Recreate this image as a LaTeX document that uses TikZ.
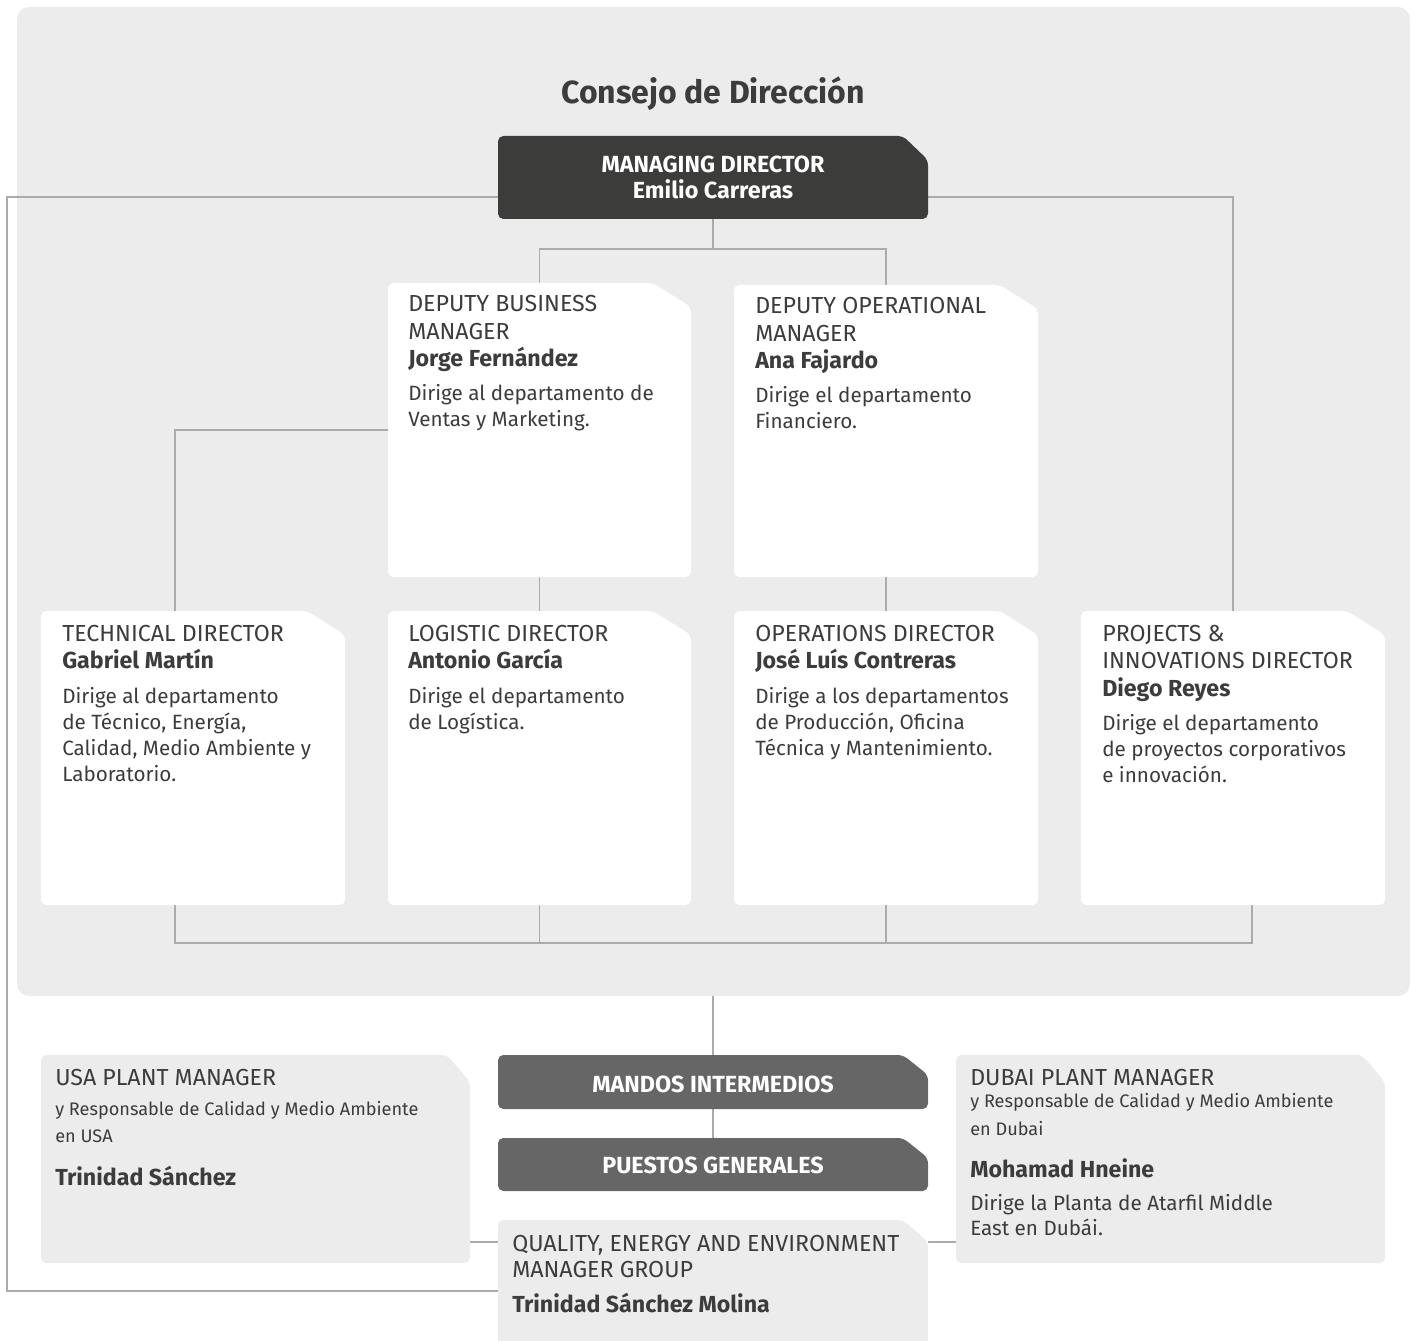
\documentclass[tikz,border=0pt]{standalone}
\usepackage{fontspec}
\setmainfont{Fira Sans}
\usetikzlibrary{fit,calc}
\definecolor{bgc}{HTML}{ECECEC}
\definecolor{dark}{HTML}{3C3C3B}
\definecolor{midg}{HTML}{666666}
\definecolor{txt}{HTML}{3C3C3C}
\definecolor{linec}{HTML}{ABABAB}
\newcommand\cutbox[4]{%
  \fill[#4, rounded corners=4pt] (#1.south west) -- (#1.north west) -- ($(#1.north east)+(-#2,0)$) -- ($(#1.north east)+(0,#3)$) -- (#1.south east) -- cycle;}
\tikzset{
  area/.style={inner sep=0pt, outer sep=0pt, draw=none},
  conn/.style={draw=linec, line width=1.3pt},
  hd/.style={font=\fontsize{17.4}{20}\selectfont, text=txt, inner sep=0pt, anchor=base west},
  nm/.style={font=\fontsize{17.4}{20}\selectfont\bfseries, text=txt, inner sep=0pt, anchor=base west},
  bd/.style={font=\fontsize{15.5}{18}\selectfont, text=txt, inner sep=0pt, anchor=base west},
  sm/.style={font=\fontsize{13.6}{16}\selectfont, text=txt, inner sep=0pt, anchor=base west},
  wt/.style={font=\fontsize{17.5}{20}\selectfont\bfseries, text=white, inner sep=0pt, anchor=base},
}
\begin{document}
\begin{tikzpicture}[x=0.75pt,y=-0.75pt]
\useasboundingbox (0,0) rectangle (1415,1341);
% background panel
\node[area, fit={(17,7) (1410,996)}] (bg) {};
\fill[bgc, rounded corners=9pt] (bg.south west) rectangle (bg.north east);
% box areas
\node[area, fit={(498,136) (928,219)}] (md) {};
\node[area, fit={(388,283) (691,577)}] (dbm) {};
\node[area, fit={(734,285) (1038,577)}] (dom) {};
\node[area, fit={(41,611) (345,905)}] (td) {};
\node[area, fit={(388,611) (691,905)}] (ld) {};
\node[area, fit={(734,611) (1038,905)}] (od) {};
\node[area, fit={(1081,611) (1385,905)}] (pid) {};
\node[area, fit={(498,1055) (928,1109)}] (mandos) {};
\node[area, fit={(498,1138) (928,1191)}] (puestos) {};
\node[area, fit={(498,1220) (928,1352)}] (qee) {};
\node[area, fit={(41,1055) (470,1263)}] (usa) {};
\node[area, fit={(956,1055) (1385,1263)}] (dubai) {};
% connectors
\coordinate (lc) at (7,1291);
\draw[conn] ($(md.south west)+(0,-22)$) -| (lc) -- (lc -| qee.west);
\draw[conn] ($(md.south east)+(0,-22)$) -| (pid.north);
\draw[conn] (md.south) -- ++(0,30) -| (dbm.north);
\draw[conn] (md.south) -- ++(0,30) -| (dom.north);
\draw[conn] ($(dbm.north west)+(0,147)$) -| ($(td.north)+(-18,0)$);
\draw[conn] (dbm.south) -- (ld.north);
\draw[conn] (dom.south) -- (od.north);
\coordinate (busL) at (175,943);
\coordinate (busR) at (1252,943);
\draw[conn] ($(td.south)+(-18,0)$) -- (busL) -- (busR) -- ($(pid.south)+(19,0)$);
\draw[conn] (ld.south) -- (ld.south |- busL);
\draw[conn] (od.south) -- (od.south |- busL);
\draw[conn] (mandos.north |- bg.south) -- (mandos.north);
\draw[conn] (mandos.south) -- (puestos.north);
\coordinate (uq) at ($(usa.south east)+(0,-21)$);
\draw[conn] (uq) -- (uq -| qee.west);
\draw[conn] (uq -| qee.east) -- (uq -| dubai.west);
% boxes
\cutbox{md}{25}{24}{dark}
\cutbox{dbm}{38}{24}{white}
\cutbox{dom}{38}{24}{white}
\cutbox{td}{38}{24}{white}
\cutbox{ld}{38}{24}{white}
\cutbox{od}{38}{24}{white}
\cutbox{pid}{38}{24}{white}
\cutbox{mandos}{25}{20}{midg}
\cutbox{puestos}{25}{20}{midg}
\cutbox{qee}{25}{22}{bgc}
\cutbox{usa}{23}{27}{bgc}
\cutbox{dubai}{23}{27}{bgc}
% title
\node[font=\fontsize{24}{29}\selectfont\bfseries, text=txt, inner sep=0pt, anchor=base] (title) at (713,104) {Consejo de Dirección};
% managing director
\node[wt] (md1) at (713,173) {MANAGING DIRECTOR};
\node[wt] (md2) at (713,199) {Emilio Carreras};
% deputy business
\node[hd] (dbm1) at (408,312) {DEPUTY BUSINESS};
\node[hd] (dbm2) at (408,340) {MANAGER};
\node[nm] (dbm3) at (408,367) {Jorge Fernández};
\node[bd] (dbm4) at (408,401) {Dirige al departamento de};
\node[bd] (dbm5) at (408,427) {Ventas y Marketing.};
% deputy operational
\node[hd] (dom1) at (755,314) {DEPUTY OPERATIONAL};
\node[hd] (dom2) at (755,342) {MANAGER};
\node[nm] (dom3) at (755,369) {Ana Fajardo};
\node[bd] (dom4) at (755,403) {Dirige el departamento};
\node[bd] (dom5) at (755,429) {Financiero.};
% technical
\node[hd] (td1) at (62,641) {TECHNICAL DIRECTOR};
\node[nm] (td2) at (62,668) {Gabriel Martín};
\node[bd] (td3) at (62,703) {Dirige al departamento};
\node[bd] (td4) at (62,729) {de Técnico, Energía,};
\node[bd] (td5) at (62,755) {Calidad, Medio Ambiente y};
\node[bd] (td6) at (62,781) {Laboratorio.};
% logistic
\node[hd] (ld1) at (408,641) {LOGISTIC DIRECTOR};
\node[nm] (ld2) at (408,668) {Antonio García};
\node[bd] (ld3) at (408,703) {Dirige el departamento};
\node[bd] (ld4) at (408,729) {de Logística.};
% operations
\node[hd] (od1) at (755,641) {OPERATIONS DIRECTOR};
\node[nm] (od2) at (755,668) {José Luís Contreras};
\node[bd] (od3) at (755,703) {Dirige a los departamentos};
\node[bd] (od4) at (755,729) {de Producción, Oficina};
\node[bd] (od5) at (755,755) {Técnica y Mantenimiento.};
% projects
\node[hd] (pid1) at (1102,641) {PROJECTS \&};
\node[hd] (pid2) at (1102,668) {INNOVATIONS DIRECTOR};
\node[nm] (pid3) at (1102,696) {Diego Reyes};
\node[bd] (pid4) at (1102,730) {Dirige el departamento};
\node[bd] (pid5) at (1102,756) {de proyectos corporativos};
\node[bd] (pid6) at (1102,782) {e innovación.};
% mandos / puestos
\node[wt] (mandos1) at (713,1092) {MANDOS INTERMEDIOS};
\node[wt] (puestos1) at (713,1173) {PUESTOS GENERALES};
% usa
\node[hd] (usa1) at (55,1085) {USA PLANT MANAGER};
\node[sm] (usa2) at (55,1115) {y Responsable de Calidad y Medio Ambiente};
\node[sm] (usa3) at (55,1142) {en USA};
\node[nm] (usa4) at (55,1185) {Trinidad Sánchez};
% dubai
\node[hd] (dub1) at (970,1085) {DUBAI PLANT MANAGER};
\node[sm] (dub2) at (970,1107) {y Responsable de Calidad y Medio Ambiente};
\node[sm] (dub3) at (970,1135) {en Dubai};
\node[nm] (dub4) at (970,1177) {Mohamad Hneine};
\node[bd] (dub5) at (970,1210) {Dirige la Planta de Atarfil Middle};
\node[bd] (dub6) at (970,1235) {East en Dubái.};
% qee
\node[hd] (qee1) at (512,1251) {QUALITY, ENERGY AND ENVIRONMENT};
\node[hd] (qee2) at (512,1277) {MANAGER GROUP};
\node[nm] (qee3) at (512,1312) {Trinidad Sánchez Molina};
\end{tikzpicture}
\end{document}
